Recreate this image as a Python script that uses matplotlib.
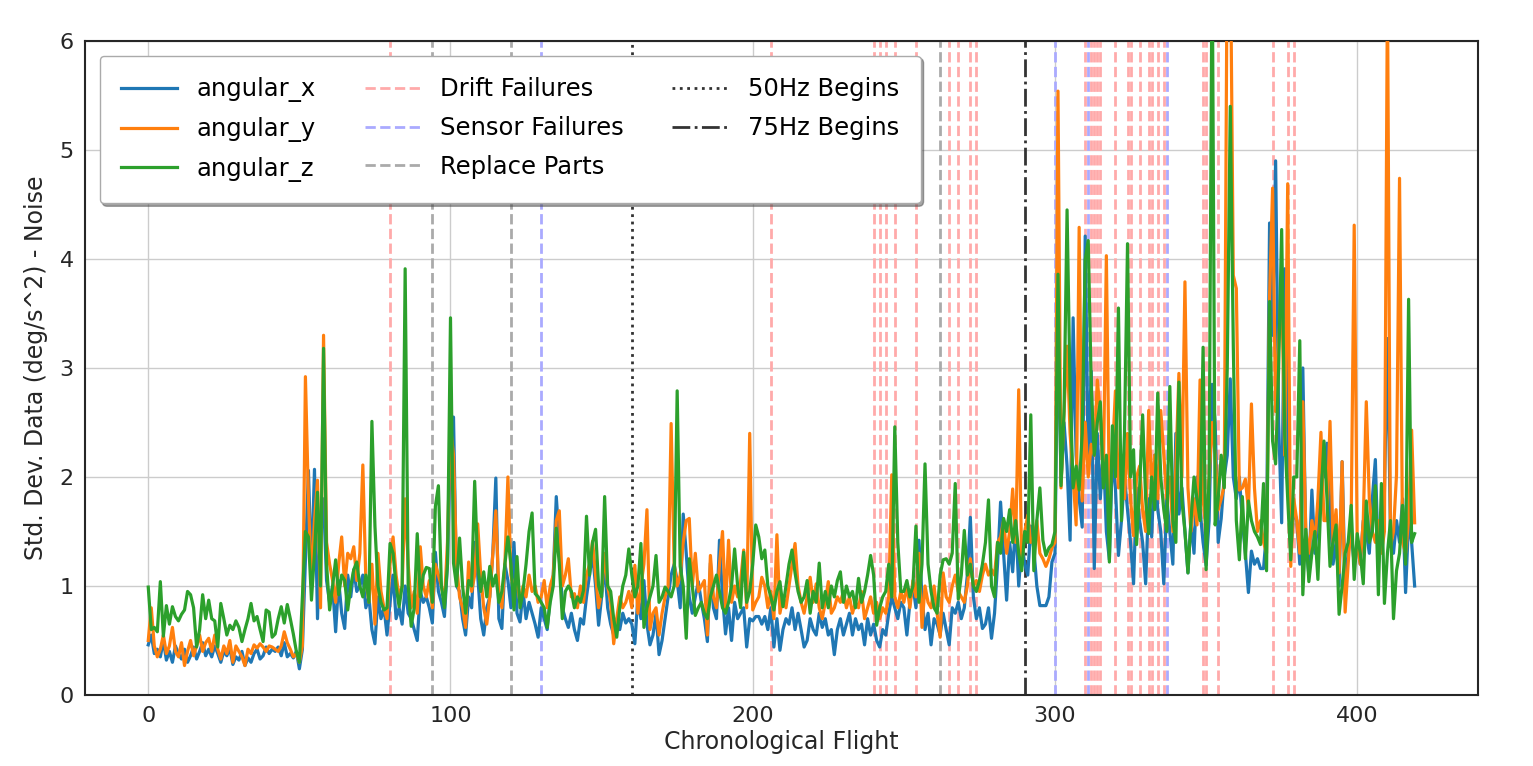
import numpy as np
import matplotlib
matplotlib.use("Agg")
import matplotlib.pyplot as plt

angular_x = [
    0.46, 0.55, 0.38, 0.42, 0.35, 0.50, 0.32, 0.40, 0.30, 0.45,
    0.38, 0.33, 0.42, 0.30, 0.36, 0.44, 0.33, 0.40, 0.48, 0.36,
    0.42, 0.35, 0.45, 0.38, 0.30, 0.40, 0.36, 0.43, 0.28, 0.35,
    0.32, 0.40, 0.27, 0.34, 0.30, 0.38, 0.42, 0.33, 0.36, 0.44,
    0.38, 0.42, 0.40, 0.44, 0.36, 0.48, 0.35, 0.38, 0.34, 0.40,
    0.24, 0.42, 1.25, 2.06, 1.10, 2.07, 0.70, 1.60, 1.80, 1.05,
    0.85, 1.00, 0.58, 1.05, 0.75, 0.61, 1.10, 0.90, 1.15, 0.95,
    1.00, 1.10, 0.80, 0.90, 0.60, 0.47, 0.90, 0.70, 0.80, 0.55,
    0.85, 1.10, 0.70, 0.80, 0.65, 1.00, 0.75, 0.70, 0.60, 0.50,
    0.95, 0.85, 0.90, 0.80, 0.66, 1.31, 0.95, 0.85, 0.72, 1.20,
    2.30, 2.55, 1.00, 0.95, 0.70, 0.55, 0.90, 0.80, 1.40, 1.10,
    0.70, 0.55, 0.80, 0.90, 1.30, 1.99, 0.70, 0.61, 1.20, 1.05,
    0.80, 1.40, 0.75, 0.67, 0.95, 0.70, 0.85, 0.75, 0.65, 0.53,
    0.80, 0.70, 0.60, 0.90, 1.10, 1.82, 1.40, 0.80, 0.70, 0.62,
    0.75, 0.60, 0.50, 0.70, 0.65, 0.90, 1.10, 1.30, 1.00, 0.64,
    0.90, 1.20, 0.80, 0.65, 0.55, 0.70, 0.60, 0.75, 0.66, 0.70,
    0.65, 0.47, 0.90, 0.70, 1.05, 0.65, 0.46, 0.55, 0.75, 0.37,
    0.50, 0.70, 0.90, 1.10, 1.20, 1.05, 0.80, 1.66, 1.30, 0.90,
    0.75, 0.90, 1.04, 0.85, 0.70, 0.49, 1.21, 0.80, 0.70, 1.42,
    0.90, 0.56, 0.80, 0.50, 0.85, 0.70, 0.75, 0.80, 0.44, 0.70,
    0.68, 0.72, 0.72, 0.65, 0.72, 0.60, 0.80, 0.44, 0.70, 0.41,
    0.60, 0.70, 0.65, 0.80, 0.60, 0.75, 0.60, 0.44, 0.50, 0.70,
    0.60, 0.55, 0.75, 0.62, 0.70, 0.55, 0.60, 0.37, 0.60, 0.70,
    0.55, 0.65, 0.75, 0.55, 0.70, 0.60, 0.65, 0.46, 0.70, 0.55,
    0.65, 0.50, 0.44, 0.60, 0.55, 0.75, 0.90, 0.80, 0.70, 0.85,
    0.80, 0.55, 0.85, 1.00, 0.80, 1.42, 0.90, 0.60, 0.75, 0.46,
    0.70, 0.65, 0.55, 0.75, 0.60, 0.46, 0.80, 0.75, 0.85, 0.70,
    0.80, 1.10, 1.63, 0.90, 0.70, 0.80, 0.61, 0.65, 0.80, 0.52,
    0.75, 1.20, 1.77, 1.30, 0.87, 1.40, 1.13, 1.60, 1.00, 1.40,
    1.20, 1.10, 1.55, 1.34, 1.00, 0.82, 0.82, 0.82, 0.90, 1.22,
    1.30, 3.53, 1.95, 2.50, 2.10, 1.42, 3.46, 2.20, 1.80, 1.54,
    4.21, 2.10, 2.97, 1.16, 2.40, 1.80, 2.25, 1.50, 1.24, 2.20,
    1.90, 1.28, 1.60, 2.00, 1.70, 1.40, 1.02, 1.90, 1.60, 1.40,
    1.02, 1.80, 1.45, 2.20, 1.70, 1.50, 1.02, 1.80, 1.50, 1.20,
    2.40, 1.66, 1.90, 1.50, 1.12, 1.60, 1.30, 2.00, 1.70, 1.40,
    1.19, 1.60, 2.85, 2.50, 1.40, 1.62, 2.00, 2.20, 2.90, 2.00,
    1.80, 2.00, 1.60, 1.30, 0.94, 1.32, 1.20, 1.25, 1.16, 1.16,
    1.50, 4.33, 3.30, 4.90, 2.50, 1.58, 3.91, 2.40, 1.30, 1.70,
    1.60, 1.20, 3.00, 1.40, 1.10, 1.88, 1.30, 1.60, 2.20, 2.00,
    2.31, 1.70, 1.20, 1.40, 1.00, 2.14, 1.00, 1.30, 1.50, 1.20,
    1.40, 1.20, 1.60, 1.50, 1.30, 1.80, 2.16, 1.20, 1.50, 1.86,
    3.27, 1.50, 1.30, 1.60, 1.40, 1.80, 0.94, 1.60, 1.40, 1.00,
]

angular_y = [
    0.50, 0.80, 0.45, 0.35, 0.42, 0.55, 0.38, 0.45, 0.62, 0.40,
    0.35, 0.48, 0.27, 0.40, 0.50, 0.36, 0.45, 0.55, 0.40, 0.48,
    0.52, 0.40, 0.55, 0.42, 0.33, 0.45, 0.38, 0.50, 0.30, 0.45,
    0.40, 0.35, 0.27, 0.42, 0.38, 0.46, 0.43, 0.47, 0.44, 0.40,
    0.45, 0.44, 0.42, 0.40, 0.45, 0.58, 0.48, 0.42, 0.35, 0.38,
    0.30, 0.45, 2.92, 1.80, 1.00, 1.60, 1.97, 0.80, 3.30, 1.40,
    1.20, 1.05, 0.85, 1.20, 1.45, 1.00, 1.30, 1.25, 1.36, 1.05,
    1.30, 2.11, 1.05, 0.85, 1.20, 0.65, 1.30, 0.95, 0.80, 0.70,
    1.20, 1.45, 1.10, 0.90, 1.00, 1.80, 1.20, 0.80, 0.95, 0.75,
    1.36, 1.00, 0.90, 1.05, 0.80, 1.20, 1.10, 1.00, 0.85, 1.40,
    2.46, 2.20, 1.20, 0.90, 0.80, 0.62, 1.22, 0.95, 1.10, 1.57,
    1.10, 0.80, 0.65, 0.90, 1.30, 1.69, 0.95, 0.80, 1.20, 2.00,
    1.10, 0.95, 1.05, 0.85, 1.00, 0.90, 1.10, 0.95, 1.00, 0.85,
    0.90, 1.05, 0.80, 1.00, 1.10, 1.60, 1.69, 1.00, 1.10, 1.25,
    0.90, 0.93, 0.80, 1.00, 0.85, 1.10, 1.20, 1.41, 1.10, 0.80,
    0.95, 1.30, 1.00, 0.85, 0.47, 0.70, 0.90, 0.80, 0.85, 0.95,
    0.80, 1.19, 0.75, 1.00, 1.20, 1.70, 0.60, 0.75, 0.80, 0.55,
    0.75, 0.90, 1.00, 2.49, 1.20, 1.00, 1.10, 1.40, 1.60, 1.62,
    1.00, 1.30, 0.95, 1.00, 1.05, 0.55, 1.28, 0.90, 0.80, 1.20,
    1.50, 0.80, 1.42, 0.85, 1.00, 0.90, 1.05, 1.33, 0.80, 2.40,
    0.78, 0.85, 0.90, 1.08, 1.00, 0.80, 0.95, 0.70, 1.47, 0.75,
    0.90, 0.80, 1.00, 1.20, 1.39, 1.00, 0.85, 0.75, 0.90, 1.08,
    0.85, 1.02, 0.80, 0.70, 0.85, 1.04, 0.75, 0.80, 0.90, 0.85,
    0.95, 0.80, 0.90, 0.75, 0.85, 0.80, 0.95, 0.70, 0.80, 0.90,
    0.75, 0.85, 0.70, 0.80, 0.75, 0.90, 2.02, 0.90, 0.80, 0.95,
    0.85, 1.00, 0.80, 1.05, 0.90, 1.30, 0.62, 1.00, 0.85, 0.80,
    1.00, 0.75, 0.53, 1.12, 0.90, 0.85, 1.00, 1.10, 0.95, 0.90,
    0.85, 1.00, 1.25, 1.00, 1.05, 0.95, 1.10, 1.20, 1.10, 1.15,
    1.10, 1.40, 1.45, 1.60, 1.30, 1.50, 1.89, 1.40, 2.80, 1.20,
    1.50, 1.65, 1.40, 1.45, 1.60, 1.30, 1.25, 1.18, 1.25, 1.35,
    1.40, 5.54, 1.90, 2.60, 3.20, 2.40, 2.00, 1.56, 4.29, 1.78,
    2.50, 2.00, 2.30, 2.20, 2.89, 2.59, 2.00, 4.03, 1.80, 2.20,
    2.79, 1.90, 2.20, 1.80, 2.40, 1.80, 1.46, 2.00, 2.10, 1.70,
    1.50, 2.61, 1.90, 2.20, 1.80, 2.61, 2.20, 1.80, 2.00, 1.50,
    2.10, 2.95, 2.00, 3.79, 1.90, 1.50, 1.80, 1.56, 2.89, 1.80,
    1.50, 2.00, 2.50, 2.20, 1.70, 1.80, 1.92, 7.00, 7.00, 3.85,
    3.73, 1.88, 1.90, 1.98, 1.70, 2.67, 1.90, 1.50, 1.60, 1.40,
    1.30, 3.65, 4.65, 2.60, 3.20, 3.83, 2.20, 4.69, 1.18, 1.80,
    1.60, 1.30, 2.69, 1.50, 1.30, 1.60, 1.40, 1.80, 2.41, 1.60,
    1.60, 2.51, 1.40, 1.70, 1.12, 2.14, 0.76, 1.20, 1.60, 4.31,
    1.40, 1.20, 1.60, 2.69, 1.80, 1.50, 1.40, 1.60, 1.30, 1.50,
    6.50, 1.36, 1.50, 2.02, 4.74, 1.40, 1.30, 1.60, 2.43, 1.58,
]

angular_z = [
    0.99, 0.60, 0.62, 0.58, 1.04, 0.54, 0.82, 0.65, 0.81, 0.72,
    0.68, 0.74, 0.78, 0.95, 0.92, 0.80, 0.44, 0.60, 0.92, 0.70,
    0.87, 0.70, 0.68, 0.44, 0.84, 0.70, 0.55, 0.64, 0.60, 0.68,
    0.62, 0.49, 0.60, 0.70, 0.84, 0.68, 0.72, 0.60, 0.49, 0.78,
    0.76, 0.53, 0.56, 0.70, 0.81, 0.66, 0.83, 0.70, 0.56, 0.40,
    0.30, 0.90, 1.50, 1.45, 0.87, 1.30, 1.86, 1.00, 3.18, 1.20,
    0.78, 1.00, 1.24, 0.92, 1.10, 1.05, 0.78, 1.00, 1.15, 1.22,
    1.00, 0.90, 1.10, 0.85, 2.51, 1.55, 1.00, 0.85, 0.78, 0.80,
    1.39, 1.30, 1.00, 0.81, 1.00, 3.91, 1.00, 0.63, 0.80, 1.48,
    0.90, 1.10, 1.17, 1.16, 0.85, 1.73, 1.92, 1.00, 0.80, 1.20,
    3.46, 1.21, 1.00, 1.44, 1.00, 0.75, 1.05, 1.00, 1.96, 1.20,
    0.95, 1.13, 0.90, 1.18, 1.00, 1.10, 0.85, 0.95, 1.20, 1.45,
    1.20, 0.78, 1.27, 0.80, 0.95, 1.20, 1.50, 1.67, 0.93, 0.90,
    0.85, 0.80, 0.62, 0.85, 1.00, 1.53, 1.20, 0.70, 0.95, 1.00,
    0.95, 0.80, 0.90, 0.85, 0.96, 1.64, 1.10, 1.40, 1.52, 1.00,
    0.90, 1.82, 1.00, 0.95, 0.70, 0.53, 0.80, 1.00, 1.10, 1.34,
    1.10, 0.90, 1.00, 1.39, 0.62, 0.80, 0.90, 1.00, 1.28, 0.85,
    0.90, 0.99, 0.95, 0.90, 1.00, 2.79, 1.18, 1.00, 0.52, 1.25,
    1.00, 0.73, 0.80, 0.85, 0.75, 0.70, 0.90, 1.00, 1.10, 0.95,
    0.80, 0.75, 0.85, 1.00, 1.34, 1.00, 0.80, 1.31, 0.85, 0.95,
    1.20, 1.56, 1.45, 1.25, 1.33, 1.00, 0.90, 0.78, 0.95, 1.04,
    0.81, 1.00, 1.20, 1.33, 1.12, 0.95, 0.85, 0.90, 1.05, 0.75,
    0.95, 0.85, 1.21, 0.80, 0.95, 0.80, 1.00, 0.90, 1.05, 1.13,
    0.85, 1.00, 0.90, 0.95, 0.80, 1.07, 0.85, 0.95, 1.10, 1.28,
    1.10, 0.64, 0.80, 0.90, 0.95, 1.20, 0.90, 2.46, 1.40, 0.95,
    0.95, 1.05, 0.90, 1.00, 1.55, 0.85, 1.20, 2.12, 1.20, 0.95,
    0.80, 0.75, 1.10, 1.24, 1.25, 1.20, 1.30, 1.94, 0.88, 1.10,
    1.51, 1.10, 1.20, 1.00, 0.95, 1.05, 1.20, 1.40, 1.79, 1.00,
    0.90, 1.40, 1.30, 1.62, 1.50, 1.70, 1.40, 1.60, 1.30, 1.14,
    1.50, 1.40, 2.57, 1.14, 1.60, 1.90, 1.42, 1.28, 1.35, 1.38,
    1.50, 3.86, 1.92, 2.60, 4.45, 2.80, 1.90, 2.10, 1.88, 2.40,
    3.99, 4.17, 2.83, 2.20, 2.50, 2.69, 1.90, 2.20, 1.22, 2.47,
    2.00, 3.55, 1.60, 2.40, 4.14, 2.00, 2.25, 1.38, 1.90, 2.57,
    1.80, 1.48, 2.00, 1.70, 2.77, 2.00, 1.70, 1.50, 2.83, 1.60,
    1.40, 2.87, 1.78, 1.50, 1.12, 1.60, 2.00, 1.80, 1.60, 3.19,
    1.15, 2.00, 6.90, 1.56, 1.80, 2.20, 1.90, 3.00, 5.40, 3.20,
    1.60, 1.24, 1.82, 1.25, 1.78, 1.60, 1.50, 1.45, 1.38, 1.94,
    1.14, 3.61, 2.33, 2.12, 3.00, 4.27, 2.39, 1.80, 1.24, 2.00,
    2.00, 3.25, 0.92, 1.52, 1.04, 1.30, 1.50, 1.06, 1.80, 2.33,
    1.80, 1.18, 1.40, 1.56, 0.74, 1.00, 1.30, 1.40, 1.74, 1.06,
    1.48, 1.30, 1.02, 1.78, 1.40, 1.50, 1.92, 0.92, 1.94, 0.84,
    1.30, 1.60, 0.70, 1.14, 1.30, 1.74, 1.20, 3.63, 1.40, 1.48,
]

drift_failures = [80, 206, 240, 242, 244, 247, 254, 265, 268, 272, 274,
                  310, 312, 313, 314, 315, 320, 324, 325, 328, 331, 332,
                  334, 336, 349, 350, 354, 372, 377, 379]
sensor_failures = [130, 300, 311, 337]
replace_parts = [94, 120, 262]
hz50_begins = 160
hz75_begins = 290

series_names = ["angular_x", "angular_y", "angular_z"]
series_colors = ["#1f77b4", "#ff7f0e", "#2ca02c"]

fig = plt.figure(figsize=(15.33, 7.66), dpi=100)
ax = fig.add_axes([0.0554, 0.0927, 0.9087, 0.8538])
ax.set_facecolor("white")

x = np.arange(len(angular_x))
for name, vals, col in zip(series_names, [angular_x, angular_y, angular_z], series_colors):
    ax.plot(x, vals, color=col, lw=2.3, label=name, zorder=3)

vstyle = dict(lw=2, zorder=2)
for k, v in enumerate(drift_failures):
    ax.axvline(v, color="#ffaaaa", ls="--", label="Drift Failures" if k == 0 else None, **vstyle)
for k, v in enumerate(sensor_failures):
    ax.axvline(v, color="#aaaaff", ls="--", label="Sensor Failures" if k == 0 else None, **vstyle)
for k, v in enumerate(replace_parts):
    ax.axvline(v, color="#aaaaaa", ls="--", label="Replace Parts" if k == 0 else None, **vstyle)
ax.axvline(hz50_begins, color="#333333", ls=":", label="50Hz Begins", **vstyle)
ax.axvline(hz75_begins, color="#333333", ls="-.", label="75Hz Begins", **vstyle)

ax.set_xlim(-20.95, 439.95)
ax.set_ylim(0, 6)
ax.set_xticks([0, 100, 200, 300, 400])
ax.set_yticks([0, 1, 2, 3, 4, 5, 6])
ax.grid(True, color="#cccccc", lw=1, zorder=0)
ax.set_axisbelow(True)
ax.tick_params(length=0, labelsize=16, labelcolor="#262626", pad=8)
for s in ax.spines.values():
    s.set_color("#262626")
    s.set_linewidth(1.5)

ax.set_xlabel("Chronological Flight", fontsize=17, color="#262626", labelpad=3)
ax.set_ylabel("Std. Dev. Data (deg/s^2) - Noise", fontsize=17, color="#262626", labelpad=8)

leg = ax.legend(loc="upper left", ncol=3, fontsize=17.5, shadow=True, fancybox=True,
                framealpha=1, edgecolor="#aaaaaa", handlelength=2.3, columnspacing=2.0,
                borderpad=0.9, labelspacing=0.6, borderaxespad=0.6)
leg.get_frame().set_facecolor("white")

fig.savefig("out.png", dpi=100)
